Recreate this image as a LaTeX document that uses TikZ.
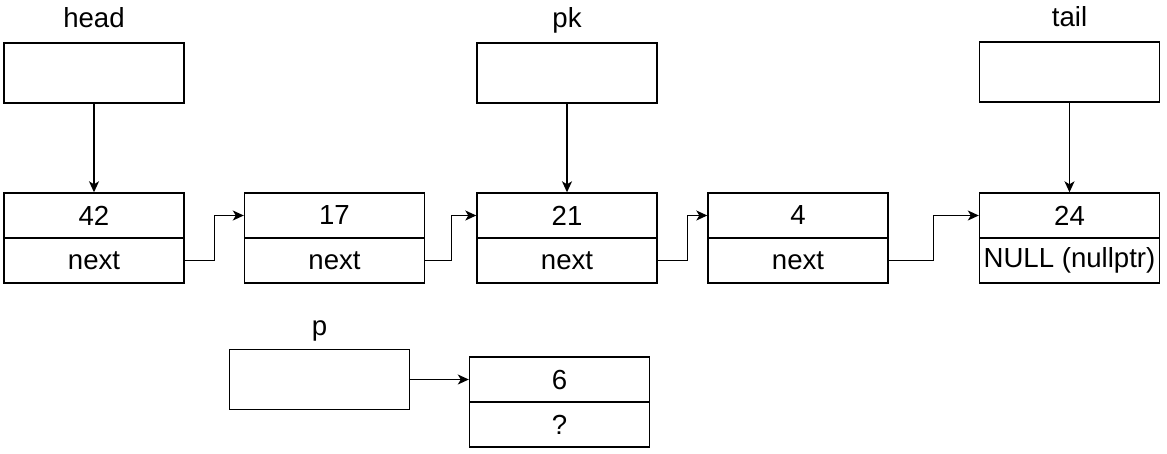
\documentclass[tikz,border=0pt]{standalone}
\usepackage{fontspec}
\setmainfont{Liberation Sans}
\usetikzlibrary{arrows.meta}
\begin{document}
\begin{tikzpicture}[x=1pt,y=-1pt,
  every node/.style={font=\fontsize{27.6}{31}\selectfont},
  cell/.style={draw, line width=1.4pt, minimum width=180pt, minimum height=45pt, inner sep=0pt, anchor=center},
  ptr/.style={draw, line width=1.4pt, minimum width=180pt, minimum height=60pt, inner sep=0pt},
  lbl/.style={anchor=base, inner sep=0pt},
  arr/.style={line width=1.4pt, -{Stealth[length=11pt,width=10pt,inset=3pt]}}]
\useasboundingbox (0,0) rectangle (1167,453);
% pointer boxes
\node[ptr] (head) at (94,73) {};
\node[ptr] (pk) at (567,73) {};
\node[ptr] (tail) at (1069.5,72) {};
\node[ptr] (p) at (319.5,379.5) {};
% labels
\node[lbl] (lhead) at (94,27) {head};
\node[lbl] (lpk) at (567,27) {pk};
\node[lbl] (ltail) at (1069.5,26) {tail};
\node[lbl] (lp) at (319.5,335) {p};
% list nodes
\node[cell] (n42) at (94,215.5) {42};
\node[cell] (n42b) at (94,260.5) {next};
\node[cell] (n17) at (334.5,215.5) {17};
\node[cell] (n17b) at (334.5,260.5) {next};
\node[cell] (n21) at (567,215.5) {21};
\node[cell] (n21b) at (567,260.5) {next};
\node[cell] (n4) at (798,215.5) {4};
\node[cell] (n4b) at (798,260.5) {next};
\node[cell] (n24) at (1069.5,215.5) {24};
\node[cell] (n24b) at (1069.5,260.5) {NULL (nullptr)};
\node[cell] (n6) at (559.5,379.5) {6};
\node[cell] (n6b) at (559.5,424.5) {?};
% pointer arrows
\draw[arr] (head.south) -- (n42.north);
\draw[arr] (pk.south) -- (n21.north);
\draw[arr] (tail.south) -- (n24.north);
\draw[arr] (p.east) -- (n6.west);
% next links
\draw[arr] (n42b.east) -- ++(30,0) |- (n17.west);
\draw[arr] (n17b.east) -- ++(26,0) |- (n21.west);
\draw[arr] (n21b.east) -- ++(30,0) |- (n4.west);
\draw[arr] (n4b.east) -- ++(45,0) |- (n24.west);
\end{tikzpicture}
\end{document}
